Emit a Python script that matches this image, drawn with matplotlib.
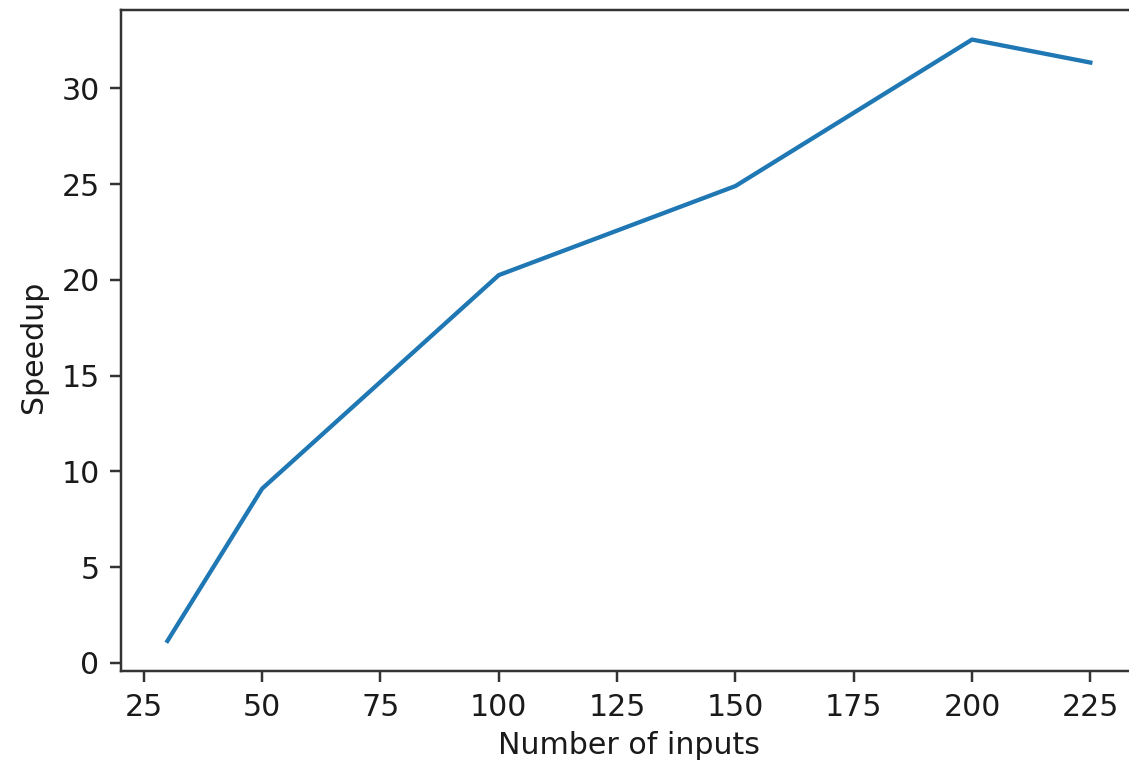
import matplotlib
matplotlib.use('Agg')
import matplotlib.pyplot as plt

# number of inputs vs. measured speedup
n_inputs = [30, 50, 100, 150, 200, 225]
speedup = [1.15, 9.1, 20.25, 24.9, 32.55, 31.35]

s = 2.23  # scale of the upscaled notebook figure
plt.rcParams['font.family'] = 'DejaVu Sans'
plt.rcParams['font.size'] = 21.6

fig = plt.figure(figsize=(11.29, 7.68), dpi=100)
ax = fig.add_axes([121.3 / 1129, (768 - 671) / 768,
                   (1136.5 - 121.3) / 1129, (671 - 9.5) / 768])

ax.plot(n_inputs, speedup, color='#1f77b4', linewidth=3.1)

ax.set_xticks([25, 50, 75, 100, 125, 150, 175, 200, 225])
ax.set_yticks([0, 5, 10, 15, 20, 25, 30])
ax.tick_params(length=3.5 * s, width=0.8 * s, pad=3.5 * s, colors='#333333', labelcolor='#1a1a1a')
for sp in ax.spines.values():
    sp.set_linewidth(0.8 * s)
    sp.set_color('#333333')

ax.set_xlabel('Number of inputs', color='#1a1a1a')
ax.set_ylabel('Speedup', color='#1a1a1a')
ax.xaxis.set_label_coords(0.5, -(731 - 671) / 661.5)
ax.yaxis.set_label_coords((48 - 121.3) / 1015.2, (671 - 347) / 661.5)

fig.savefig('out.png', dpi=100)
plt.close(fig)
